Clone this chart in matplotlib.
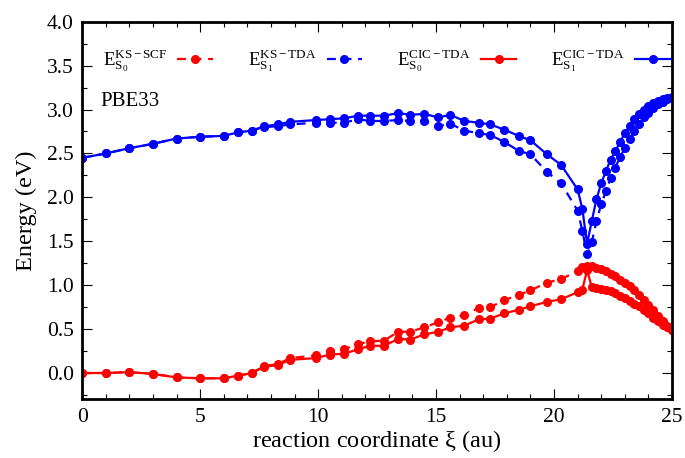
import numpy as np
import matplotlib; matplotlib.use("Agg")
import matplotlib.pyplot as plt
from matplotlib.ticker import MultipleLocator

plt.rcParams["font.family"] = ["Liberation Serif", "DejaVu Serif"]
plt.rcParams["mathtext.fontset"] = "custom"
plt.rcParams["mathtext.rm"] = "Liberation Serif"
plt.rcParams["mathtext.it"] = "Liberation Serif:italic"

# reaction coordinate (au)
xi = [0, 1, 2, 3, 4, 5, 6, 6.6, 7.2, 7.7, 8.3, 8.8,
      9.9, 10.5, 11.1, 11.7, 12.2, 12.8, 13.4, 13.9, 14.5, 15.1, 15.6, 16.2,
      16.8, 17.3, 17.9, 18.5, 19.0, 19.7, 20.3, 21.0, 21.2, 21.4,
      21.6, 21.8, 22.0, 22.2, 22.4, 22.6, 22.8, 23.0, 23.2, 23.4, 23.6, 23.8,
      24.0, 24.2, 24.4, 24.6, 24.8, 25.0]

# energies (eV)
s0_ks_scf = [0.0, 0.0, 0.01, -0.01, -0.05, -0.06, -0.06, -0.03, 0.0, 0.08, 0.10, 0.17,
             0.20, 0.25, 0.27, 0.33, 0.36, 0.37, 0.47, 0.47, 0.52, 0.58, 0.63, 0.66,
             0.74, 0.75, 0.83, 0.89, 0.94, 1.03, 1.07, 1.16, 1.21, 1.22,
             1.22, 1.20, 1.18, 1.16, 1.13, 1.10, 1.06, 1.03, 0.99, 0.94, 0.89, 0.83,
             0.77, 0.72, 0.65, 0.59, 0.54, 0.49]
s1_ks_tda = [2.45, 2.50, 2.56, 2.61, 2.67, 2.69, 2.70, 2.74, 2.76, 2.80, 2.81, 2.83,
             2.85, 2.85, 2.85, 2.89, 2.87, 2.87, 2.88, 2.87, 2.87, 2.81, 2.84, 2.76,
             2.73, 2.71, 2.63, 2.53, 2.49, 2.29, 2.16, 1.85, 1.62, 1.35,
             1.49, 1.73, 1.92, 2.07, 2.22, 2.34, 2.46, 2.56, 2.66, 2.76, 2.84, 2.91,
             2.96, 3.02, 3.06, 3.09, 3.12, 3.13]
s0_cic_tda = [0.0, 0.0, 0.01, -0.01, -0.05, -0.06, -0.06, -0.03, 0.0, 0.07, 0.09, 0.15,
              0.17, 0.21, 0.22, 0.27, 0.31, 0.31, 0.39, 0.38, 0.44, 0.47, 0.52, 0.54,
              0.61, 0.62, 0.68, 0.72, 0.76, 0.81, 0.84, 0.92, 0.95, 1.17,
              0.98, 0.97, 0.96, 0.95, 0.93, 0.91, 0.88, 0.85, 0.82, 0.79, 0.76, 0.72,
              0.68, 0.63, 0.59, 0.55, 0.52, 0.49]
s1_cic_tda = [2.45, 2.50, 2.56, 2.61, 2.67, 2.69, 2.70, 2.74, 2.76, 2.81, 2.83, 2.86,
              2.88, 2.89, 2.90, 2.93, 2.93, 2.93, 2.96, 2.94, 2.95, 2.91, 2.94, 2.87,
              2.85, 2.83, 2.77, 2.70, 2.65, 2.49, 2.37, 2.09, 1.87, 1.47,
              1.73, 1.98, 2.16, 2.30, 2.43, 2.53, 2.63, 2.73, 2.81, 2.89, 2.95, 3.00,
              3.04, 3.07, 3.10, 3.12, 3.13, 3.14]

RED = "#ff0000"; BLUE = "#0000ff"
series = [
    (s0_ks_scf, RED, "dash", r"$\mathrm{E}_{\mathrm{S}_0}^{\mathrm{KS-SCF}}$"),
    (s1_ks_tda, BLUE, "dash", r"$\mathrm{E}_{\mathrm{S}_1}^{\mathrm{KS-TDA}}$"),
    (s0_cic_tda, RED, "solid", r"$\mathrm{E}_{\mathrm{S}_0}^{\mathrm{CIC-TDA}}$"),
    (s1_cic_tda, BLUE, "solid", r"$\mathrm{E}_{\mathrm{S}_1}^{\mathrm{CIC-TDA}}$"),
]

fig = plt.figure(figsize=(6.85, 4.58), dpi=100)
ax = fig.add_axes([0.12, 0.128, 0.861, 0.8246])

for ys, c, ls, lab in series:
    ln, = ax.plot(xi, ys, color=c, lw=1.6, marker="o", ms=5.5, mec=c, mfc=c, label=lab)
    if ls == "dash":
        ln.set_dashes((4, 3))

ax.set_xlim(0, 25); ax.set_ylim(-0.3, 4.0)
ax.xaxis.set_major_locator(MultipleLocator(5)); ax.xaxis.set_minor_locator(MultipleLocator(1))
ax.yaxis.set_major_locator(MultipleLocator(0.5)); ax.yaxis.set_minor_locator(MultipleLocator(0.25))
ax.yaxis.set_major_formatter(matplotlib.ticker.FormatStrFormatter("%.1f"))
ax.tick_params(which="both", direction="in", top=True, right=True, labelsize=15.5, width=0.8)
ax.tick_params(which="major", length=7, pad=6)
ax.tick_params(which="minor", length=3.5)
for s in ax.spines.values(): s.set_linewidth(2.0)

ax.set_xlabel(r"reaction coordinate $\mathrm{\xi}$ (au)", fontsize=17.5, labelpad=1)
ax.set_ylabel("Energy (eV)", fontsize=17.5, labelpad=7)
ax.text(0.75, 3.09, "PBE33", fontsize=15, va="center", ha="left")

ax.legend(ncol=4, loc="upper left", bbox_to_anchor=(0.022, 0.952), frameon=False,
          markerfirst=False, numpoints=1, fontsize=13.5, handlelength=1.9,
          handletextpad=0.55, columnspacing=1.85, borderaxespad=0)

fig.savefig("out.png", dpi=100)
